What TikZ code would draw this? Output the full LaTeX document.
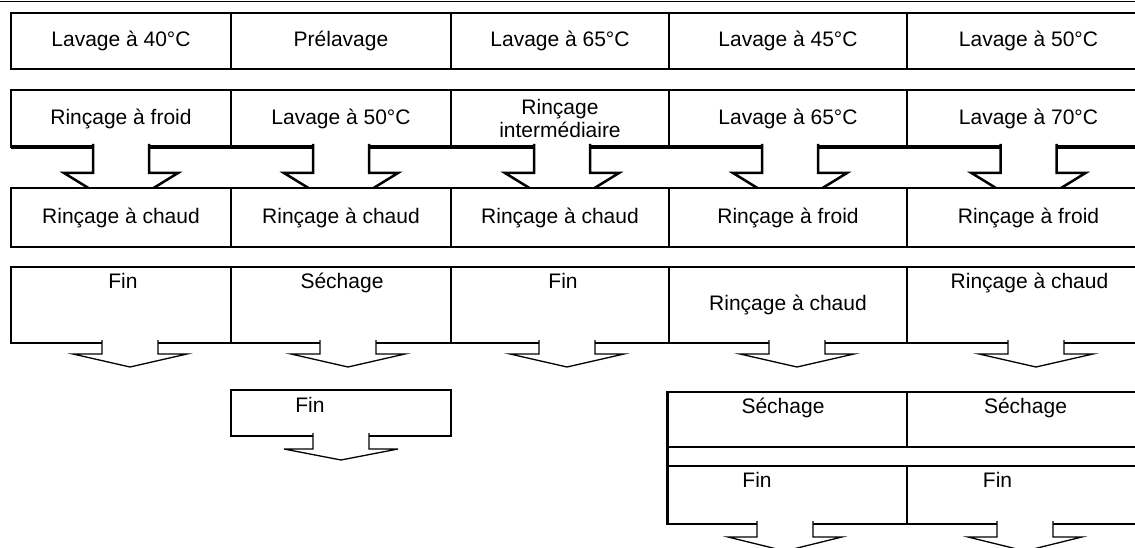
\documentclass[tikz,border=0pt]{standalone}
\usepackage{fontspec}
\setmainfont{Liberation Sans}
\usepackage{tikz}
\usetikzlibrary{positioning,calc}
\tikzset{
    cell/.style={rectangle, draw, line width=2pt, fill=white, inner sep=0pt, outer sep=0pt, align=center, font=\fontsize{21}{23}\selectfont},
    lbl/.style={inner sep=0pt, font=\fontsize{21}{23}\selectfont},
    blockarrow/.style={draw, fill=white, line width=1.5pt, line join=miter}
}
% block arrow under a cell: [style]{cell}{x offset}{stem length}{head length}
\newcommand{\fleche}[5][]{%
  \draw[blockarrow,#1] ($(#2.south)+(#3-28,-3)$) -- ++(0,#4+3) -- ++(-29,0)
    -- ($(#2.south)+(#3,#4+#5)$) -- ($(#2.south)+(#3+57,#4)$) -- ++(-29,0) -- ++(0,-#4-3);}

\begin{document}
\begin{tikzpicture}[x=1pt, y=-1pt, node distance=6pt]
\useasboundingbox (0,0) rectangle (1135,548);
\clip (0,0) rectangle (1135,548);
\draw[line width=1pt] (0,2) -- (1135,2);

% ── Row 1 ──
\node[cell, minimum width=220pt, minimum height=56pt] (c11) at (121,41) {Lavage à 40°C};
\node[cell, minimum width=220pt, minimum height=56pt] (c12) at (341,41) {Prélavage};
\node[cell, minimum width=218pt, minimum height=56pt] (c13) at (560,41) {Lavage à 65°C};
\node[cell, minimum width=238pt, minimum height=56pt] (c14) at (788,41) {Lavage à 45°C};
\node[cell, minimum width=243pt, minimum height=56pt] (c15) at (1028.5,41) {Lavage à 50°C};

% ── Row 2 ──
\node[cell, minimum width=220pt, minimum height=57pt] (c21) at (121,118.5) {Rinçage à froid};
\node[cell, minimum width=220pt, minimum height=57pt] (c22) at (341,118.5) {Lavage à 50°C};
\node[cell, minimum width=218pt, minimum height=57pt] (c23) at (560,118.5) {Rinçage\\intermédiaire};
\node[cell, minimum width=238pt, minimum height=57pt] (c24) at (788,118.5) {Lavage à 65°C};
\node[cell, minimum width=243pt, minimum height=57pt] (c25) at (1028.5,118.5) {Lavage à 70°C};
\draw[line width=4pt] (c21.south west) -- (c25.south east);

\fleche[line width=2.5pt]{c21}{0}{26}{35}
\fleche[line width=2.5pt]{c22}{0}{26}{35}
\fleche[line width=2.5pt]{c23}{2}{26}{35}
\fleche[line width=2.5pt]{c24}{2}{26}{35}
\fleche[line width=2.5pt]{c25}{0}{26}{35}

% ── Row 3 ──
\node[cell, minimum width=220pt, minimum height=59pt] (c31) at (121,217.5) {Rinçage à chaud};
\node[cell, minimum width=220pt, minimum height=59pt] (c32) at (341,217.5) {Rinçage à chaud};
\node[cell, minimum width=218pt, minimum height=59pt] (c33) at (560,217.5) {Rinçage à chaud};
\node[cell, minimum width=238pt, minimum height=59pt] (c34) at (788,217.5) {Rinçage à froid};
\node[cell, minimum width=243pt, minimum height=59pt] (c35) at (1028.5,217.5) {Rinçage à froid};

% ── Row 4 ──
\node[cell, minimum width=220pt, minimum height=76pt] (c41) at (121,305) {};
\node[cell, minimum width=220pt, minimum height=76pt] (c42) at (341,305) {};
\node[cell, minimum width=218pt, minimum height=76pt] (c43) at (560,305) {};
\node[cell, minimum width=238pt, minimum height=76pt] (c44) at (788,305) {Rinçage à chaud};
\node[cell, minimum width=243pt, minimum height=76pt] (c45) at (1028.5,305) {};
\node[lbl, below=6pt of c41.north, xshift=2pt] (t41) {Fin};
\node[lbl, below=6pt of c42.north, xshift=1pt] (t42) {Séchage};
\node[lbl, below=6pt of c43.north, xshift=3pt] (t43) {Fin};
\node[lbl, below=6pt of c45.north, xshift=1pt] (t45) {Rinçage à chaud};

\fleche[line width=1.3pt]{c41}{9}{11}{13}
\fleche[line width=1.3pt]{c42}{7}{11}{13}
\fleche[line width=1.3pt]{c43}{7}{11}{13}
\fleche[line width=1.3pt]{c44}{9}{11}{13}
\fleche[line width=1.3pt]{c45}{7.5}{11}{13}

% ── Row 5 ──
\node[cell, minimum width=220pt, minimum height=46pt] (c52) at (341,413) {};
\node[lbl, below=7pt of c52.north, xshift=-31pt] (t52) {Fin};
\fleche[line width=1.3pt]{c52}{0}{13}{11}

\node[cell, minimum width=240pt, minimum height=55pt] (s4) at (787,419.5) {};
\node[cell, minimum width=243pt, minimum height=55pt] (s5) at (1028.5,419.5) {};
\node[cell, minimum width=240pt, minimum height=58pt] (f4) at (787,495) {};
\node[cell, minimum width=243pt, minimum height=58pt] (f5) at (1028.5,495) {};
\draw[line width=3pt] (s4.north west) -- (f4.south west);
\node[lbl, below=6pt of s4.north, xshift=-4pt] (ts4) {Séchage};
\node[lbl, below=6pt of s5.north, xshift=-3pt] (ts5) {Séchage};
\node[lbl, below=6pt of f4.north, xshift=-30pt] (tf4) {Fin};
\node[lbl, below=6pt of f5.north, xshift=-31pt] (tf5) {Fin};

\fleche[line width=1.3pt]{f4}{-2}{13}{14}
\fleche[line width=1.3pt]{f5}{-3.5}{13}{14}

\end{tikzpicture}
\end{document}
